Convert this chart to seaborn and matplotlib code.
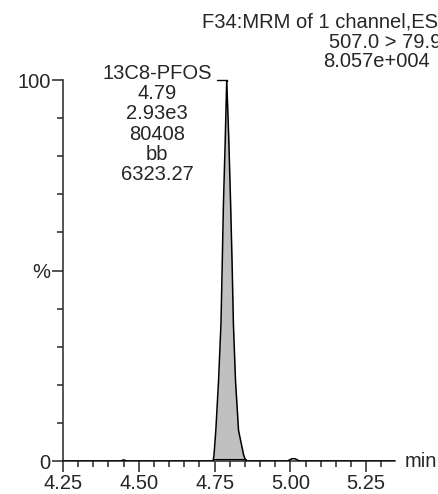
import matplotlib
matplotlib.use("Agg")
import matplotlib.pyplot as plt
from matplotlib.ticker import MultipleLocator, FixedLocator, FixedFormatter
import seaborn as sns
import pandas as pd

# trace: retention time (min) vs relative intensity (%)
rt = [4.25, 4.44, 4.45, 4.46, 4.745, 4.748, 4.754, 4.763, 4.771, 4.775, 4.779,
      4.785, 4.790, 4.797, 4.803, 4.808, 4.812, 4.819, 4.829, 4.846, 4.853,
      4.99, 5.005, 5.015, 5.03, 5.345]
intensity = [0, 0, 0.3, 0, 0, 1.5, 8, 21, 36, 51, 67,
             84, 100, 84, 67, 51, 36, 21, 8, 1.5, 0,
             0, 0.6, 0.6, 0, 0]

peak_start, peak_end = 4.745, 4.853
peak_rt = 4.79

peak_labels = ["13C8-PFOS", "4.79", "2.93e3", "80408", "bb", "6323.27"]
header_lines = ["F34:MRM of 1 channel,ES-", "507.0 > 79.9", "8.057e+004"]

x_ticks = [4.25, 4.50, 4.75, 5.00, 5.25]
y_ticks = [0, 50, 100]
y_ticklabels = ["0", "%", "100"]

sns.set_style("ticks")
plt.rcParams["font.family"] = ["Liberation Sans", "DejaVu Sans"]
fs = 14.5

W, H = 438, 494
fig = plt.figure(figsize=(W / 100, H / 100), dpi=100)
ax = fig.add_axes([63 / W, (H - 461) / H, (395 - 63) / W, (461 - 80) / H])

df = pd.DataFrame({"rt": rt, "intensity": intensity})
peak = df[(df.rt >= peak_start) & (df.rt <= peak_end)]
ax.fill_between(peak.rt, peak.intensity, 0, color="#c0c0c0", linewidth=0, zorder=1)
ax.plot([peak_start, peak_end], [0.4, 0.4], color="black", lw=0.8, zorder=2)
sns.lineplot(data=df, x="rt", y="intensity", color="black", lw=1.1, ax=ax,
             zorder=3, estimator=None, sort=False)

ax.set_xlim(4.25, 5.345)
ax.set_ylim(0, 100)
ax.set_xlabel("")
ax.set_ylabel("")
sns.despine(ax=ax)
for s in ("left", "bottom"):
    ax.spines[s].set_linewidth(1.1)

ax.xaxis.set_major_locator(FixedLocator(x_ticks))
ax.xaxis.set_major_formatter(FixedFormatter([f"{v:.2f}" for v in x_ticks]))
ax.xaxis.set_minor_locator(MultipleLocator(0.05))
ax.yaxis.set_major_locator(FixedLocator(y_ticks))
ax.yaxis.set_major_formatter(FixedFormatter(y_ticklabels))
ax.yaxis.set_minor_locator(MultipleLocator(10))
ax.tick_params(which="major", length=8, width=1.1, labelsize=fs)
ax.tick_params(which="minor", length=4.3, width=1.1)
ax.tick_params(axis="x", which="major", pad=1.5)
ax.tick_params(axis="y", which="major", pad=1)

# peak annotation with leader line to the apex
for i, line in enumerate(peak_labels):
    fig.text(157 / W, 1 - (79 + 20.2 * i) / H, line, ha="center", va="baseline",
             fontsize=fs)
ax.annotate("", xy=(peak_rt, 99), xytext=(4.25 + (214 - 64) / 301, 100),
            textcoords="data", annotation_clip=False,
            arrowprops=dict(arrowstyle="-", color="black", lw=1.0,
                            connectionstyle="angle,angleA=0,angleB=90,rad=0"))

header_x = [202, 329, 323]
header_y = [28, 48, 67]
for line, hx, hy in zip(header_lines, header_x, header_y):
    fig.text(hx / W, 1 - hy / H, line, ha="left", va="baseline", fontsize=fs)

fig.text(405 / W, 1 - 461 / H, "min", ha="left", va="center", fontsize=fs)

fig.savefig("out.png", dpi=100)
